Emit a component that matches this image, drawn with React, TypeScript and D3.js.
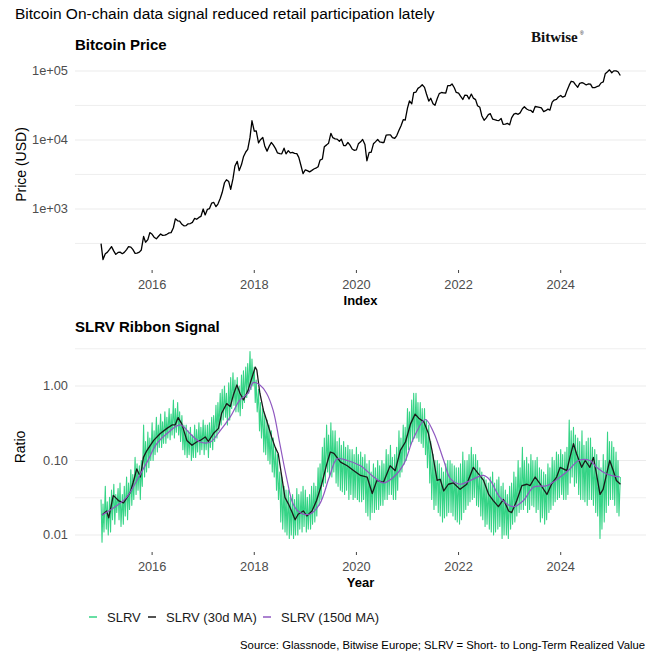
import React from "react";
import * as d3 from "d3";

// ---------- DATA ----------
// Bitcoin price (USD), semi-monthly (1st and 15th of each month), Jan 2015 .. Mar 2025
const priceValues: number[] = [
  // 2015
  315, 185, 225, 235, 260, 285, 245, 220, 235, 237, 225, 235, 258, 285, 280, 260, 228, 230, 237, 255, 400, 330, 360, 455,
  // 2016
  430, 390, 370, 400, 435, 415, 417, 430, 450, 455, 535, 720, 675, 665, 600, 570, 575, 610, 615, 640, 730, 710, 755, 780,
  // 2017
  1000, 820, 990, 1010, 1220, 1250, 1080, 1180, 1420, 1730, 2400, 2650, 2500, 1930, 2750, 4200, 4900, 3600, 4400, 5700, 6700, 7300, 10900, 19000,
  // 2018
  13400, 13600, 9100, 10100, 10900, 8200, 6900, 8000, 9200, 8500, 7500, 6500, 6350, 6300, 7600, 6300, 7000, 6500, 6600, 6400, 6350, 5600, 4200, 3250,
  // 2019
  3700, 3600, 3450, 3600, 3800, 3900, 4100, 5100, 5300, 8000, 8500, 9000, 12500, 10800, 10400, 10300, 9600, 10300, 8300, 8300, 9200, 8500, 7400, 7100,
  // 2020
  7200, 8800, 9400, 10200, 8600, 5000, 6600, 6600, 8800, 9400, 10200, 9400, 9200, 9200, 11800, 11900, 11900, 10800, 10600, 11500, 13800, 16000, 19700, 19400,
  // 2021
  29000, 36800, 33500, 48700, 49600, 56000, 59000, 63100, 57800, 46400, 36700, 40200, 33500, 31800, 39900, 47000, 48800, 48100, 48000, 61500, 61300, 65000, 57200, 48900,
  // 2022
  47700, 43100, 38700, 44500, 44400, 39300, 46300, 40500, 38500, 31300, 29800, 22500, 19300, 20800, 23300, 24100, 20100, 19700, 19300, 19100, 20500, 16900, 17000, 17400,
  // 2023
  16600, 20900, 23700, 24300, 23600, 24700, 28400, 30300, 28100, 27200, 26800, 25100, 30600, 30300, 29700, 29200, 25800, 26600, 28000, 27100, 35400, 37900, 38700, 42000,
  // 2024
  44200, 41700, 43100, 51900, 62400, 71000, 69600, 63400, 58200, 66200, 67700, 66000, 62800, 64800, 64600, 57500, 57300, 59200, 60800, 67000, 69500, 91000, 97300, 104000,
  // 2025
  94400, 100500, 100600, 97500, 86000,
];

// SLRV raw ratio, weekly samples (days 1, 8, 15, 22 of each month), Jan 2015 .. Mar 2025
const slrvValues: number[] = [
  // 2015
  0.03, 0.008, 0.026, 0.011, 0.045, 0.012, 0.028, 0.01, 0.032, 0.011, 0.04, 0.016,
  0.048, 0.014, 0.035, 0.02, 0.042, 0.016, 0.05, 0.013, 0.035, 0.014, 0.045, 0.018,
  0.06, 0.016, 0.05, 0.022, 0.075, 0.025, 0.065, 0.03, 0.11, 0.035, 0.09, 0.04,
  0.085, 0.03, 0.1, 0.045, 0.3, 0.06, 0.18, 0.07, 0.24, 0.08, 0.2, 0.1,
  // 2016
  0.32, 0.1, 0.25, 0.12, 0.38, 0.13, 0.3, 0.15, 0.42, 0.15, 0.33, 0.17,
  0.45, 0.17, 0.38, 0.2, 0.5, 0.19, 0.42, 0.22, 0.65, 0.2, 0.5, 0.24,
  0.6, 0.22, 0.45, 0.18, 0.4, 0.14, 0.3, 0.12, 0.3, 0.11, 0.25, 0.12,
  0.28, 0.1, 0.22, 0.11, 0.3, 0.11, 0.26, 0.13, 0.32, 0.12, 0.28, 0.14,
  // 2017
  0.35, 0.12, 0.3, 0.14, 0.3, 0.11, 0.32, 0.15, 0.38, 0.14, 0.4, 0.18,
  0.55, 0.2, 0.6, 0.25, 0.8, 0.3, 0.9, 0.35, 1.0, 0.38, 0.8, 0.3,
  1.1, 0.35, 1.3, 0.5, 1.5, 0.55, 1.2, 0.45, 1.3, 0.45, 1.0, 0.4,
  1.4, 0.5, 1.6, 0.6, 1.8, 0.7, 2.0, 0.8, 2.9, 0.9, 2.3, 1.0,
  // 2018
  1.8, 0.6, 1.2, 0.45, 0.9, 0.25, 0.6, 0.2, 0.5, 0.13, 0.4, 0.12,
  0.35, 0.1, 0.3, 0.09, 0.25, 0.07, 0.2, 0.06, 0.15, 0.04, 0.12, 0.03,
  0.07, 0.015, 0.06, 0.012, 0.045, 0.011, 0.04, 0.01, 0.04, 0.009, 0.032, 0.01,
  0.035, 0.009, 0.03, 0.01, 0.042, 0.01, 0.035, 0.012, 0.038, 0.011, 0.045, 0.013,
  // 2019
  0.04, 0.011, 0.032, 0.012, 0.035, 0.012, 0.045, 0.014, 0.05, 0.015, 0.045, 0.018,
  0.08, 0.025, 0.09, 0.03, 0.15, 0.045, 0.2, 0.05, 0.3, 0.07, 0.22, 0.06,
  0.32, 0.06, 0.25, 0.07, 0.25, 0.05, 0.18, 0.045, 0.2, 0.04, 0.16, 0.038,
  0.18, 0.035, 0.15, 0.04, 0.16, 0.03, 0.14, 0.035, 0.14, 0.03, 0.12, 0.032,
  // 2020
  0.15, 0.03, 0.12, 0.028, 0.13, 0.028, 0.11, 0.03, 0.12, 0.02, 0.09, 0.018,
  0.1, 0.016, 0.07, 0.02, 0.09, 0.02, 0.08, 0.022, 0.1, 0.022, 0.085, 0.025,
  0.1, 0.025, 0.09, 0.03, 0.14, 0.03, 0.12, 0.035, 0.16, 0.035, 0.11, 0.03,
  0.12, 0.03, 0.15, 0.04, 0.25, 0.06, 0.2, 0.07, 0.3, 0.09, 0.28, 0.1,
  // 2021
  0.5, 0.14, 0.45, 0.16, 0.65, 0.18, 0.8, 0.2, 0.8, 0.2, 0.6, 0.18,
  0.6, 0.17, 0.5, 0.15, 0.5, 0.12, 0.35, 0.08, 0.3, 0.05, 0.18, 0.03,
  0.12, 0.022, 0.1, 0.025, 0.1, 0.02, 0.09, 0.018, 0.08, 0.015, 0.07, 0.017,
  0.09, 0.018, 0.1, 0.02, 0.1, 0.02, 0.09, 0.018, 0.085, 0.016, 0.08, 0.015,
  // 2022
  0.08, 0.014, 0.09, 0.016, 0.13, 0.02, 0.1, 0.022, 0.1, 0.025, 0.12, 0.028,
  0.15, 0.03, 0.12, 0.032, 0.12, 0.025, 0.1, 0.024, 0.08, 0.018, 0.07, 0.016,
  0.06, 0.013, 0.055, 0.014, 0.05, 0.012, 0.06, 0.011, 0.07, 0.01, 0.05, 0.011,
  0.055, 0.012, 0.06, 0.013, 0.045, 0.009, 0.05, 0.01, 0.04, 0.01, 0.035, 0.009,
  // 2023
  0.045, 0.012, 0.05, 0.014, 0.07, 0.015, 0.06, 0.018, 0.1, 0.02, 0.08, 0.022,
  0.15, 0.022, 0.1, 0.025, 0.11, 0.02, 0.09, 0.022, 0.12, 0.025, 0.1, 0.024,
  0.1, 0.02, 0.11, 0.022, 0.08, 0.015, 0.075, 0.017, 0.07, 0.014, 0.065, 0.016,
  0.09, 0.02, 0.08, 0.022, 0.11, 0.025, 0.1, 0.028, 0.13, 0.03, 0.12, 0.032,
  // 2024
  0.14, 0.035, 0.12, 0.03, 0.13, 0.03, 0.15, 0.035, 0.35, 0.05, 0.25, 0.06,
  0.28, 0.045, 0.22, 0.05, 0.2, 0.035, 0.18, 0.03, 0.25, 0.03, 0.16, 0.028,
  0.18, 0.025, 0.2, 0.03, 0.2, 0.03, 0.15, 0.025, 0.14, 0.02, 0.12, 0.018,
  0.1, 0.009, 0.08, 0.012, 0.12, 0.015, 0.1, 0.02, 0.24, 0.025, 0.18, 0.03,
  // 2025
  0.18, 0.03, 0.15, 0.025, 0.13, 0.02, 0.1, 0.018, 0.06,
];

// SLRV 30-day moving average (decimal year, value)
const ma30Years: number[] = [
  2015.02, 2015.11, 2015.15, 2015.24, 2015.34, 2015.44, 2015.57, 2015.63, 2015.7, 2015.77, 2015.83, 2015.9,
  2016.03, 2016.16, 2016.29, 2016.39, 2016.45, 2016.51, 2016.58, 2016.68, 2016.78, 2016.87, 2016.94,
  2017.04, 2017.1, 2017.2, 2017.3, 2017.36, 2017.46, 2017.53, 2017.59, 2017.66, 2017.72, 2017.79, 2017.88, 2017.95,
  2018.02, 2018.05, 2018.11, 2018.18, 2018.24, 2018.34, 2018.41, 2018.47, 2018.54, 2018.6, 2018.67, 2018.73, 2018.8, 2018.86, 2018.96,
  2019.03, 2019.13, 2019.22, 2019.32, 2019.42, 2019.49, 2019.56, 2019.69, 2019.82, 2019.95,
  2020.08, 2020.21, 2020.31, 2020.4, 2020.53, 2020.66, 2020.76, 2020.86, 2020.96,
  2021.06, 2021.15, 2021.22, 2021.32, 2021.41, 2021.48, 2021.58, 2021.64, 2021.71, 2021.8, 2021.9,
  2022.03, 2022.16, 2022.29, 2022.39, 2022.49, 2022.59, 2022.68, 2022.78, 2022.88, 2022.98,
  2023.04, 2023.14, 2023.24, 2023.34, 2023.4, 2023.5, 2023.6, 2023.73, 2023.82, 2023.92, 2023.99,
  2024.12, 2024.18, 2024.25, 2024.31, 2024.41, 2024.48, 2024.57, 2024.64, 2024.7, 2024.77, 2024.83, 2024.9, 2024.96,
  2025.03, 2025.09, 2025.17,
];
const ma30Values: number[] = [
  0.0186, 0.021, 0.017, 0.034, 0.029, 0.027, 0.037, 0.051, 0.077, 0.06, 0.11, 0.137,
  0.186, 0.23, 0.27, 0.3, 0.3, 0.377, 0.31, 0.186, 0.16, 0.177, 0.186,
  0.207, 0.18, 0.23, 0.27, 0.43, 0.58, 0.53, 0.756, 1.03, 0.8, 0.65, 0.88, 1.27,
  1.79, 1.64, 0.8, 0.47, 0.35, 0.207, 0.15, 0.123, 0.06, 0.032, 0.026, 0.021, 0.016, 0.019, 0.021,
  0.018, 0.021, 0.029, 0.048, 0.09, 0.13, 0.125, 0.095, 0.085, 0.073,
  0.063, 0.06, 0.036, 0.054, 0.051, 0.085, 0.073, 0.137, 0.177,
  0.31, 0.42, 0.37, 0.33, 0.23, 0.137, 0.054, 0.056, 0.039, 0.048, 0.05,
  0.041, 0.048, 0.081, 0.066, 0.054, 0.035, 0.029, 0.024, 0.03, 0.021,
  0.02, 0.029, 0.046, 0.048, 0.046, 0.06, 0.048, 0.035, 0.048, 0.06, 0.081,
  0.073, 0.11, 0.168, 0.123, 0.081, 0.1, 0.081, 0.11, 0.066, 0.035, 0.041, 0.066, 0.1,
  0.073, 0.054, 0.048,
];

// SLRV 150-day moving average (decimal year, value)
const ma150Years: number[] = [
  2015.02, 2015.24, 2015.5, 2015.7, 2015.9, 2016.09, 2016.29, 2016.55, 2016.74, 2016.94, 2017.14, 2017.33, 2017.53,
  2017.72, 2017.88, 2017.98, 2018.11, 2018.24, 2018.37, 2018.5, 2018.63, 2018.76, 2018.89, 2019.08, 2019.28, 2019.47,
  2019.62, 2019.82, 2020.08, 2020.34, 2020.53, 2020.73, 2020.93, 2021.12, 2021.35, 2021.51, 2021.71, 2021.84, 2022.03,
  2022.23, 2022.49, 2022.62, 2022.81, 2023.07, 2023.27, 2023.47, 2023.73, 2023.99, 2024.18, 2024.35, 2024.57, 2024.7,
  2024.9, 2025.16,
];
const ma150Values: number[] = [
  0.0186, 0.023, 0.032, 0.054, 0.095, 0.168, 0.23, 0.3, 0.23, 0.177, 0.177, 0.25, 0.385,
  0.65, 0.8, 1.11, 1.03, 0.8, 0.47, 0.168, 0.06, 0.026, 0.02, 0.019, 0.026, 0.06,
  0.105, 0.1, 0.085, 0.06, 0.05, 0.06, 0.09, 0.2, 0.355, 0.24, 0.1, 0.057, 0.048,
  0.054, 0.063, 0.054, 0.032, 0.024, 0.029, 0.044, 0.046, 0.06, 0.077, 0.1, 0.1, 0.081,
  0.066, 0.06,
];

const yearTicks: number[] = [2016, 2018, 2020, 2022, 2024];
const priceTicks: number[] = [1e3, 1e4, 1e5];
const priceTickLabels: string[] = ["1e+03", "1e+04", "1e+05"];
const priceMinor: number[] = [316.23, 3162.3, 31623];
const ratioTicks: number[] = [0.01, 0.1, 1];
const ratioTickLabels: string[] = ["0.01", "0.10", "1.00"];
const ratioMinor: number[] = [0.03162, 0.3162, 3.162];

const legendLabels: string[] = ["SLRV", "SLRV (30d MA)", "SLRV (150d MA)"];
const seriesColors: string[] = ["#35d486", "#1a1a1a", "#8f58c0"];

// sample index -> decimal year
const halfMonthYear = (i: number) => 2015 + Math.floor(i / 2) / 12 + (i % 2) * (14 / 365);
const weekYear = (i: number) => 2015 + Math.floor(i / 4) / 12 + (i % 4) * (7 / 365);

const FONT = "'Liberation Sans', Arial, Helvetica, sans-serif";

export default function App() {
  const W = 661;
  const H = 661;
  const left = 75;
  const right = 646;

  const x = d3.scaleLinear().domain([2014.49, 2025.67]).range([left, right]);

  // top panel
  const pTop = 59;
  const pBot = 270;
  const yP = d3.scaleLog().domain([1e3, 1e5]).range([209, 71]);

  // bottom panel
  const rTop = 342;
  const rBot = 552;
  const yR = d3.scaleLog().domain([0.01, 1]).range([535, 386]);

  const priceLine = d3
    .line<number>()
    .x((_, i) => x(halfMonthYear(i)))
    .y((d) => yP(d));

  const slrvLine = d3
    .line<number>()
    .x((_, i) => x(weekYear(i)))
    .y((d) => yR(d));

  const ma30Line = d3
    .line<number>()
    .x((_, i) => x(ma30Years[i]))
    .y((d) => yR(d));

  const ma150Line = d3
    .line<number>()
    .curve(d3.curveCatmullRom.alpha(0.5))
    .x((_, i) => x(ma150Years[i]))
    .y((d) => yR(d));

  const grid = "#ebebeb";
  const tickText = "#4d4d4d";

  const legendX = [93, 152, 267];

  return (
    <svg
      width={W}
      height={H}
      viewBox={`0 0 ${W} ${H}`}
      style={{ position: "fixed", left: 0, top: 0, background: "#fff" }}
      fontFamily={FONT}
    >
      <rect x={0} y={0} width={W} height={H} fill="#fff" />

      {/* Title */}
      <text x={15} y={19} fontSize={15.5} fill="#000">
        Bitcoin On-chain data signal reduced retail participation lately
      </text>
      <text x={531} y={42} fontSize={15} fontWeight={700} fontFamily="'Liberation Serif', 'Times New Roman', serif" fill="#111">
        Bitwise
      </text>
      <text x={580} y={35} fontSize={5} fontFamily={FONT} fill="#111">®</text>

      {/* ---------- Top panel ---------- */}
      <text x={75} y={50} fontSize={15} fontWeight={700} fill="#000">
        Bitcoin Price
      </text>
      {priceMinor.map((v) => (
        <line key={"pm" + v} x1={left} x2={right} y1={yP(v)} y2={yP(v)} stroke={grid} strokeWidth={0.8} />
      ))}
      {priceTicks.map((v) => (
        <line key={"pg" + v} x1={left} x2={right} y1={yP(v)} y2={yP(v)} stroke={grid} strokeWidth={1.1} />
      ))}
      {priceTicks.map((v, i) => (
        <text key={"pt" + v} x={68} y={yP(v)} dy="0.35em" textAnchor="end" fontSize={12.8} fill={tickText}>
          {priceTickLabels[i]}
        </text>
      ))}
      {yearTicks.map((t) => (
        <g key={"px" + t}>
          <line x1={x(t)} x2={x(t)} y1={pBot} y2={pBot + 3} stroke="#444" strokeWidth={1} />
          <text x={x(t)} y={289} textAnchor="middle" fontSize={12.8} fill={tickText}>
            {t}
          </text>
        </g>
      ))}
      <path d={priceLine(priceValues) || ""} fill="none" stroke="#000" strokeWidth={1.3} strokeLinejoin="round" />
      <text x={(left + right) / 2} y={305} textAnchor="middle" fontSize={13} fontWeight={700} fill="#000">
        Index
      </text>
      <text transform={`translate(26,${(pTop + pBot) / 2}) rotate(-90)`} textAnchor="middle" fontSize={14} fill="#000">
        Price (USD)
      </text>

      {/* ---------- Bottom panel ---------- */}
      <text x={75} y={332} fontSize={15} fontWeight={700} fill="#000">
        SLRV Ribbon Signal
      </text>
      {ratioMinor.map((v) => (
        <line key={"rm" + v} x1={left} x2={right} y1={yR(v)} y2={yR(v)} stroke={grid} strokeWidth={0.8} />
      ))}
      {ratioTicks.map((v) => (
        <line key={"rg" + v} x1={left} x2={right} y1={yR(v)} y2={yR(v)} stroke={grid} strokeWidth={1.1} />
      ))}
      {ratioTicks.map((v, i) => (
        <text key={"rt" + v} x={68} y={yR(v)} dy="0.35em" textAnchor="end" fontSize={12.8} fill={tickText}>
          {ratioTickLabels[i]}
        </text>
      ))}
      {yearTicks.map((t) => (
        <g key={"rx" + t}>
          <line x1={x(t)} x2={x(t)} y1={rBot} y2={rBot + 3} stroke="#444" strokeWidth={1} />
          <text x={x(t)} y={571} textAnchor="middle" fontSize={12.8} fill={tickText}>
            {t}
          </text>
        </g>
      ))}
      <path d={slrvLine(slrvValues) || ""} fill="none" stroke={seriesColors[0]} strokeWidth={1.1} strokeLinejoin="round" />
      <path d={ma30Line(ma30Values) || ""} fill="none" stroke={seriesColors[1]} strokeWidth={1.3} strokeLinejoin="round" />
      <path d={ma150Line(ma150Values) || ""} fill="none" stroke={seriesColors[2]} strokeWidth={1.2} strokeLinejoin="round" />
      <text x={(left + right) / 2} y={587} textAnchor="middle" fontSize={13} fontWeight={700} fill="#000">
        Year
      </text>
      <text transform={`translate(25,${(rTop + rBot) / 2}) rotate(-90)`} textAnchor="middle" fontSize={14} fill="#000">
        Ratio
      </text>

      {/* Legend */}
      {legendLabels.map((lab, i) => (
        <g key={"lg" + i}>
          <line x1={legendX[i] - 4} x2={legendX[i] + 4} y1={617} y2={617} stroke={seriesColors[i]} strokeWidth={1.5} />
          <text x={legendX[i] + 14} y={617} dy="0.35em" fontSize={13} fill="#1a1a1a">
            {lab}
          </text>
        </g>
      ))}

      {/* Source */}
      <text x={645} y={649} textAnchor="end" fontSize={11.3} fill="#000">
        Source: Glassnode, Bitwise Europe; SLRV = Short- to Long-Term Realized Value
      </text>
    </svg>
  );
}
